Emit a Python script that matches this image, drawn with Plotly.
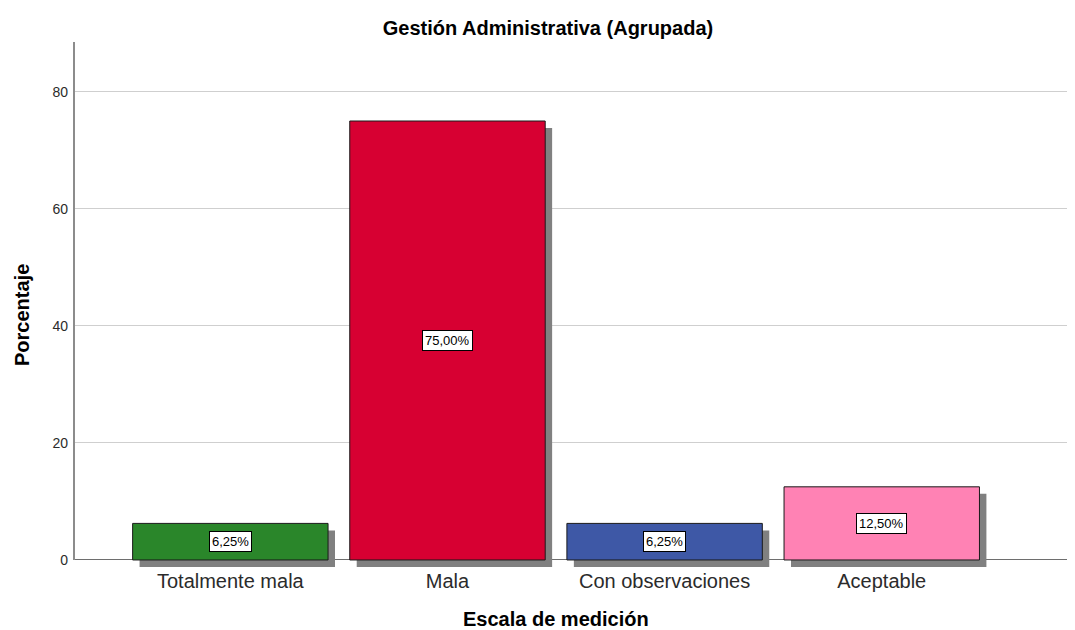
import plotly.graph_objects as go

categories = ["Totalmente mala", "Mala", "Con observaciones", "Aceptable"]
values = [6.25, 75.0, 6.25, 12.5]
labels = ["6,25%", "75,00%", "6,25%", "12,50%"]
colors = ["#2A862A", "#D70032", "#3E58A6", "#FF82B4"]
y_ticks = [0, 20, 40, 60, 80]

FONT = "Liberation Sans, Arial, sans-serif"
Y_MAX = 88.5
SHADOW_Y = 1.2     # shadow drop in data units (~7px)
SHADOW_X = 0.032   # shadow shift in category units (~7px)
BAR_W = 0.9

# page is offset by the 8px default body margin
W, H = 1067, 622
ML, MT, MB, MR = 66, 34, 63, 0
PW, PH = W - ML - MR, H - MT - MB

fig = go.Figure()

# shadows
fig.add_trace(go.Bar(
    x=categories, y=values, base=[-SHADOW_Y] * len(values),
    width=BAR_W, offset=-BAR_W / 2 + SHADOW_X,
    marker=dict(color="#808080", line=dict(width=0)),
    hoverinfo="skip", showlegend=False,
))
# bars
fig.add_trace(go.Bar(
    x=categories, y=values,
    width=BAR_W, offset=-BAR_W / 2,
    marker=dict(color=colors, line=dict(color="#1a1a1a", width=1)),
    showlegend=False,
))

for c, v, t in zip(categories, values, labels):
    fig.add_annotation(
        x=c, y=v / 2, text=t, showarrow=False,
        font=dict(family=FONT, size=13, color="#000000"),
        bgcolor="#FFFFFF", bordercolor="#000000", borderwidth=1, borderpad=2,
    )

# y axis line from 0 to top
fig.add_shape(type="line", xref="paper", yref="y", x0=0, x1=0, y0=0, y1=Y_MAX,
              line=dict(color="#8C8C8C", width=2), layer="above")

# axis titles (figure px: x-title centre (548, 611), y-title centre (14, 307))
fig.add_annotation(text="<b>Escala de medición</b>", xref="paper", yref="paper",
                   x=(548 - ML) / PW, y=-(611 - (H - MB)) / PH,
                   xanchor="center", yanchor="middle", showarrow=False,
                   font=dict(family=FONT, size=20, color="#000000"))
fig.add_annotation(text="<b>Porcentaje</b>", xref="paper", yref="paper",
                   x=-(ML - 14) / PW, y=((H - MB) - 307) / PH,
                   xanchor="center", yanchor="middle", textangle=-90, showarrow=False,
                   font=dict(family=FONT, size=20, color="#000000"))

fig.update_layout(
    width=W, height=H,
    paper_bgcolor="white", plot_bgcolor="white",
    margin=dict(l=ML, r=MR, t=MT, b=MB),
    barmode="overlay",
    font=dict(family=FONT, color="#000000"),
    title=dict(text="<b>Gestión Administrativa (Agrupada)</b>",
               x=540 / W, xanchor="center", y=1 - 20 / H, yanchor="middle",
               font=dict(family=FONT, size=20, color="#000000")),
    xaxis=dict(
        type="category", categoryorder="array", categoryarray=categories,
        range=[-0.72, 3.89], showgrid=False, showline=False, zeroline=False,
        ticks="", automargin=False,
        tickfont=dict(family=FONT, size=20, color="#2B2B2B"),
    ),
    yaxis=dict(
        range=[-SHADOW_Y, Y_MAX], tickvals=y_ticks,
        showgrid=True, gridcolor="#CFCFCF", gridwidth=1,
        zeroline=True, zerolinecolor="#6E6E6E", zerolinewidth=1,
        showline=False, ticks="", automargin=False, ticklabelstandoff=5,
        tickfont=dict(family=FONT, size=14, color="#2B2B2B"),
    ),
)

fig.write_html("out.html")
